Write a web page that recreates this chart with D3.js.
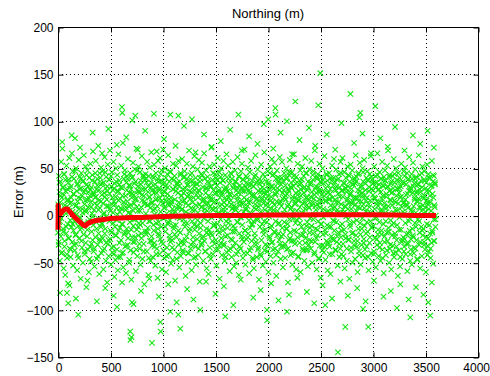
<!DOCTYPE html>
<html>
<head>
<meta charset="utf-8">
<script src="https://cdn.jsdelivr.net/npm/d3@7"></script>
<style>
  body { margin: 0; background: #fff; }
  text { font-family: "Liberation Sans", Arial, sans-serif; fill: #000; }
</style>
</head>
<body>
<div id="chart"></div>
<script>
// sample spacing of the bulk error series (seconds)
const sampleStep = 3;
const sampleStepB = 6;
const sampleOffsetB = 1.5;

// northing error per sample (m)
const bulkErrors = [
  -18, 9, -31, 42, -7, 25, -48, 14, 36, -22, 57, -3, 19, -39, 71, 5, -14, 30, -56, 22,
  44, -27, 11, -63, 38, 2, -19, 53, -41, 16, 28, -9, -72, 35, -24, 8, 61, -35, 13, -5,
  -44, 31, 19, -12, 66, -28, 4, 47, -53, -16, 23, 39, -6, -37, 82, 10, -21, 50, -30, 1,
  26, -58, 15, 34, -11, -45, 59, 7, -24, 41, -2, 18, -67, 29, 45, -13, -34, 21, 3, -50,
  37, -20, 64, -8, 12, -41, 27, 52, -29, 6, -76, 33, 17, -15, 48, -36, 9, 25, -60, 40,
  -4, 21, -33, 55, 14, -49, 30, -17, 2, 43, -26, 68, -10, -38, 24, 6, -54, 36, 19, -23,
  58, -7, 28, -46, 11, 39, -31, -3, 74, -19, 16, -62, 45, 8, -27, 33, -12, 51, -40, 22,
  -9, 47, -24, 13, -57, 35, 3, -35, 62, 20, -14, 29, -48, 41, -1, 17, -71, 26, 54, -30,
  10, -43, 38, -6, 23, 69, -25, 5, -52, 31, -18, 46, 12, -39, 27, -8, 57, -33, 15, -65,
  34, -12, -47, 20, 50, -21, 8, -36, 43, 1, -58, 26, 65, -16, 37, -29, 4, 18, -44, 30,
  -26, 53, 7, -40, 29, -9, 77, -55, 14, 39, -20, -2, 48, -33, 21, 9, -61, 35, -14, 42,
  15, -31, 60, -18, 3, 32, -50, 24, -7, 45, -37, 11, 28, -68, 19, 40, -23, 6, 56, -11,
  -39, 22, 13, -28, 49, -4, 36, -59, 18, 71, -15, 27, -43, 5, 31, -21, 52, -8, 24, -35,
  46, -10, -52, 33, 9, -24, 63, 16, -46, 28, -3, 41, -30, 21, -73, 38, 12, -17, 44, 2,
  -20, 35, -38, 57, 11, -13, 25, -63, 42, -6, 19, 51, -27, 8, -48, 30, 67, -22, 14, -32,
  27, -44, 6, 40, -16, 54, -29, 1, 33, -53, 17, 45, -8, 24, -35, 10, -66, 39, 58, -19,
  -7, 29, -41, 18, 61, -25, 4, 37, -12, 48, -57, 22, 13, -30, 70, -3, 26, -45, 35, 9,
  50, -17, 31, -60, 15, 2, -34, 44, 23, -9, 64, -42, 11, 36, -21, -5, 47, -28, 19, -51,
  12, 39, -26, 7, -47, 55, 28, -14, 3, -36, 42, 17, -69, 30, -10, 53, -23, 8, 33, -39,
  -2, 24, 58, -31, 14, -55, 36, 9, -18, 45, -43, 21, 6, -27, 60, 15, -37, 28, -4, 41,
  -30, 16, 47, -12, 29, -64, 4, 38, -22, 55, -8, 20, -49, 33, 11, -40, 69, -17, 26, 1,
  43, -35, 8, 25, -58, 37, -6, 14, 52, -28, 19, -45, 31, 63, -15, 6, -33, 40, -52, 22,
  -11, 34, -25, 49, 3, -42, 27, 59, -19, 12, -70, 36, 21, -8, 44, -31, 9, 56, -24, 15,
  30, -48, 18, -3, 66, -27, 39, 7, -38, 24, 48, -14, -56, 29, 5, 41, -20, 13, -62, 35,
  -15, 52, -34, 20, 10, -46, 31, -2, 73, -21, 17, 38, -41, 6, 27, -11, 54, -30, 23, 44,
  8, -26, 40, -53, 15, 32, -9, 61, -36, 3, 25, -18, 46, -67, 19, 35, -4, -29, 50, 12,
  -42, 23, 5, 37, -16, 58, -32, 14, 28, -48, 9, 43, -22, 30, -6, 65, -39, 17, -13, 26,
  53, -8, -37, 19, 34, -59, 22, 1, 45, -25, 12, -44, 39, 7, -17, 57, 29, -33, 10, -54,
  21, -14, 48, -29, 6, 36, -50, 27, 16, -7, 62, -38, 3, 24, -63, 41, -19, 11, 32, -2,
  -35, 47, 13, -22, 55, -10, 26, -45, 38, 4, -28, 19, 70, -16, 31, -52, 8, 42, -25, 17,
  28, -40, 10, 51, -19, 33, -5, -61, 24, 46, -13, 15, -34, 58, 2, -27, 37, -9, 20, -47,
  -6, 31, -56, 22, 41, -23, 12, 64, -31, 7, 35, -44, 18, -3, 49, -36, 26, 9, -68, 34,
  39, -12, 25, -41, 4, 54, -26, 17, -9, 30, -53, 44, 13, -20, 28, 67, -37, 6, -15, 23,
  -49, 18, 36, -7, 13, -32, 47, 21, -60, 35, -1, 27, -24, 52, 8, -43, 16, 31, -11, 60,
  14, -28, 43, 3, -50, 29, -17, 56, 11, -35, 22, -6, 39, -64, 25, 48, -21, 5, 34, -38,
  -19, 40, -8, 27, 62, -30, 15, -46, 33, 10, -22, 57, -13, 24, -55, 37, 2, -33, 45, 19,
  6, -45, 32, 17, -14, 50, -36, 23, 40, -9, -71, 28, 12, -26, 43, -4, 59, -18, 30, -42,
  35, 9, -27, 46, -52, 20, 4, -39, 31, 65, -16, 38, -30, 14, -8, 24, -57, 41, 18, -5,
  -23, 55, 16, -43, 26, -2, 37, -29, 9, 48, -60, 21, 34, -12, 3, 52, -35, 13, -20, 29,
  42, -16, -48, 30, 7, 61, -24, 19, -37, 45, 11, -7, 27, -54, 36, 16, -31, 8, 49, -26,
  -3, 33, 20, -35, 58, -11, 25, -50, 14, 38, -19, 47, 1, -41, 22, 69, -28, 10, -14, 31,
  24, -57, 39, 12, -21, 44, -6, 30, -45, 17, 55, -32, 8, 26, -66, 35, -9, 41, 15, -37,
  50, -20, 7, 34, -39, 21, 63, -15, 2, -47, 29, 16, -27, 43, -10, 37, -58, 24, 5, -30,
  -12, 45, -33, 18, 28, -62, 11, 40, -22, 4, 53, -41, 19, -5, 32, -26, 60, -16, 36, 9,
  17, -36, 27, 49, -7, -28, 38, 6, -53, 23, 14, -18, 44, -44, 30, 2, -35, 57, -23, 12,
  -41, 26, -9, 61, 20, -30, 3, 35, -15, 46, -56, 29, 10, -24, 40, -1, 25, -48, 16, 52,
  31, -4, 43, -25, 13, -67, 36, 22, -12, 54, -34, 7, 28, -19, 48, -50, 15, 33, -7, 19,
  -27, 38, 11, -46, 34, 64, -21, 5, 41, -33, 18, -60, 27, 9, -14, 45, -38, 22, 56, -8,
  8, -52, 30, 15, -31, 24, -3, 50, -42, 36, 12, -25, 59, -11, 21, -45, 34, 4, -19, 40,
  -33, 19, 47, -17, 3, 37, -58, 26, 9, -29, 44, 16, -6, 63, -40, 28, -13, 38, 1, -49,
  22, -11, 35, -38, 52, 7, -24, 18, 42, -55, 30, -2, 15, -31, 66, -20, 27, 10, -43, 33,
  -7, 46, -29, 14, -48, 25, 39, -16, 5, 57, -36, 21, 32, -9, -61, 41, 13, -22, 48, 3,
  37, -42, 20, 8, -18, 53, -27, 31, 69, -13, 2, -50, 26, 43, -35, 17, -5, 34, -57, 24,
  -21, 11, 42, -32, 29, -8, 60, -44, 16, 35, -19, 6, -39, 50, 21, -26, 38, -10, 28, -64,
  45, 13, -37, 24, -2, 40, -54, 19, 31, -15, 55, -28, 9, -46, 36, 4, -23, 47, 14, -33,
  2, -25, 51, 17, -41, 33, 12, -20, 45, -59, 23, 8, -30, 39, -6, 62, -16, 27, -48, 30,
  -36, 28, 6, -52, 39, -14, 24, 56, -23, 10, -40, 34, 19, -8, 49, -35, 3, 41, -26, 15,
  26, -47, 33, -4, 18, 64, -31, 9, -18, 43, -56, 25, 37, -12, 5, -43, 30, 52, -21, 11,
  -14, 38, -28, 47, 21, -36, 4, 29, -60, 35, 16, -9, 54, -32, 12, -24, 44, 7, -38, 26,
  40, -19, 14, -45, 31, 1, -29, 58, -16, 23, 36, -51, 19, -4, 42, -27, 9, 33, -12, 0
];

// second interleaved set of samples (core band)
const bulkErrorsB = [
  12, -28, 35, -6, 21, -40, 3, 30, -17, 44, -33, 8, 26, -12, -45, 17, 38, -24, 5, 29,
  -36, 14, 41, -9, 23, -31, 2, 47, -20, 11, 33, -42, 19, -4, 28, -15, 39, -27, 7, 36,
  -11, 25, -38, 16, 4, 43, -22, 31, -7, 18, -46, 27, 9, -30, 37, -1, 22, -35, 13, 45,
  20, -14, 32, -43, 6, 27, -25, 40, 15, -8, 34, -37, 1, 24, -19, 46, -29, 10, 31, -3,
  -26, 38, 7, -16, 42, -34, 19, 3, -41, 29, 12, -21, 36, -5, 25, -44, 16, 33, -13, 8,
  30, -9, 21, -39, 14, 44, -18, 6, -32, 27, 39, -24, 10, -47, 32, 2, -15, 23, 41, -28,
  -4, 34, -23, 17, -36, 9, 48, -12, 26, -30, 5, 37, -19, 22, -8, 43, -38, 15, 28, -2,
  39, -17, 11, 31, -45, 20, -6, 35, -27, 13, 42, -10, 24, -33, 7, 29, -41, 18, -14, 36,
  -21, 27, -2, 44, -28, 16, 33, -37, 8, 25, -12, 40, -43, 19, 30, -7, 14, -25, 46, 3,
  15, -34, 28, -11, 38, -20, 4, 26, -46, 35, 10, -16, 31, -3, 43, -29, 21, 7, -39, 24,
  -8, 41, -26, 13, -1, 32, -40, 22, 37, -14, 18, -31, 45, 6, -23, 34, -10, 27, -44, 11,
  33, -5, 19, -35, 26, 40, -13, 9, -29, 43, -22, 16, 3, -38, 29, 12, -18, 36, -6, 21,
  -42, 17, 30, -19, 7, -27, 45, 14, -9, 34, -36, 24, 38, -15, 2, 27, -32, 10, 41, -24,
  25, -12, 37, -30, 18, 5, -44, 28, 11, -21, 39, -4, 23, -35, 16, 44, -26, 8, -11, 32,
  -17, 36, 9, -41, 30, -7, 20, 42, -33, 15, -2, 29, -25, 38, 13, -40, 26, -16, 6, 35,
  40, -23, 14, 27, -37, 3, 33, -10, 22, -45, 31, 8, -19, 43, -28, 17, -5, 37, -34, 12,
  -1, 28, -43, 19, 35, -16, 24, -6, 41, -31, 11, 26, -38, 4, 32, -22, 45, -13, 20, -29,
  31, -36, 6, 44, -18, 23, -42, 15, 29, -9, 37, -26, 13, 1, -33, 40, 18, -20, 27, -7,
  -30, 21, 39, -14, 10, -35, 26, 46, -24, 7, 30, -40, 17, -3, 42, -27, 12, 34, -17, 5,
  22, -44, 16, 33, -8, 28, -21, 38, 2, -37, 24, 14, -29, 45, -11, 19, -36, 30, 9, -18,
  -13, 35, -27, 11, 43, -4, 18, -39, 29, 6, -24, 41, -15, 26, -46, 13, 36, -9, 22, -32,
  38, -2, 25, -33, 15, -19, 44, 4, -28, 32, 17, -41, 23, -12, 37, -25, 8, 40, -6, 28,
  -37, 14, 31, -22, 3, 39, -30, 20, -11, 45, -16, 27, 6, -43, 34, 10, -20, 29, -35, 18,
  7, -26, 42, -9, 24, -38, 13, 33, -18, 2, 40, -32, 19, 36, -5, -27, 44, 15, -42, 26,
  -20, 32, -14, 21, 46, -29, 8, -36, 27, 16, -7, 38, -44, 12, 30, -23, 3, 41, -12, 34,
  27, -41, 19, -3, 35, 12, -25, 43, -15, 28, -34, 5, 39, -20, 18, -45, 31, 9, -28, 37,
  -6, 23, -37, 30, 10, -17, 41, -31, 16, 36, -10, 25, -40, 3, 44, -22, 14, -33, 29, 6,
  36, -15, 29, -44, 20, 1, -26, 34, 13, -38, 42, -8, 22, -30, 11, 38, -19, 26, -3, -41,
  -25, 44, 4, -21, 31, -34, 17, 39, -12, 24, -46, 15, 33, -6, 28, -28, 9, 45, -16, 20,
  18, -31, 37, 8, -23, 26, -42, 14, 40, -10, 21, -35, 5, 32, -18, 43, -27, 11, 35, -4
];

// sparser tail samples [time s, error m]
const tailPoints = [
  [40, 78], [130, 85], [210, 72], [330, 88], [420, 66], [480, 92], [560, 75], [650, 83],
  [760, 70], [830, 90], [940, 68], [1010, 81], [1120, 74], [1200, 95], [1310, 67], [1390, 86],
  [1460, 72], [1550, 79], [1640, 91], [1750, 69], [1820, 84], [1900, 76], [1960, 97], [2050, 71],
  [2120, 88], [2230, 65], [2300, 80], [2390, 93], [2450, 74], [2560, 86], [2640, 70], [2700, 98],
  [2820, 77], [2900, 87], [2980, 66], [3070, 82], [3140, 73], [3210, 94], [3300, 69], [3380, 85],
  [3450, 76], [3520, 90], [3580, 72],
  [20, -82], [110, -74], [170, -88], [280, -69], [370, -91], [450, -77], [530, -85], [610, -71],
  [720, -94], [790, -80], [870, -67], [960, -86], [1050, -73], [1130, -92], [1230, -78], [1290, -89],
  [1410, -70], [1500, -83], [1580, -75], [1670, -95], [1740, -68], [1860, -87], [1930, -79], [2030, -72],
  [2100, -90], [2200, -84], [2280, -66], [2370, -81], [2440, -93], [2520, -74], [2610, -88], [2690, -70],
  [2760, -85], [2850, -77], [2930, -91], [3010, -69], [3100, -86], [3170, -80], [3260, -73], [3340, -89],
  [3410, -76], [3480, -84], [3560, -71]
];

// outliers [time s, error m]
const outlierPoints = [
  [609, 115], [612, 109], [736, 106], [708, 101], [914, 108], [1070, 107], [1146, 106], [1276, 102],
  [1718, 107], [2003, 102], [2498, 151], [2260, 121], [2785, 129], [2479, 117], [3022, 116], [2070, 114],
  [2072, 107], [2880, 109], [2870, 104], [2180, 100],
  [193, -105], [98, -93], [85, -82], [688, -123], [690, -132], [700, -129], [895, -135], [975, -113],
  [978, -123], [1165, -120], [1070, -102], [1146, -105], [1593, -107], [1990, -100], [1992, -111], [562, -97],
  [705, -92], [1355, -100], [2181, -102], [2736, -118], [2955, -118], [2666, -145], [3355, -108], [3545, -106],
  [3527, -92], [2905, -99], [2545, -95], [3228, -98]
];

// running mean [time s, error m]
const meanPoints = [
  [0, -15], [2, 11], [5, -2], [12, 4], [25, 2], [45, 5], [70, 7], [90, 7], [120, 3], [160, -2],
  [200, -6], [240, -10], [260, -11], [290, -8], [330, -6], [380, -5], [450, -4], [500, -3],
  [600, -2.5], [700, -2], [800, -2], [900, -1.5], [1000, -1], [1200, -0.5], [1500, 0], [1800, 0],
  [2000, 0.5], [2200, 0.5], [2500, 1], [2800, 1], [3000, 1], [3200, 0.5], [3400, 0], [3600, 0]
];

const xTicks = [0, 500, 1000, 1500, 2000, 2500, 3000, 3500, 4000];
const yTicks = [-150, -100, -50, 0, 50, 100, 150, 200];

const dims = { width: 490, height: 376, left: 58, right: 478, top: 27, bottom: 357 };

const svg = d3.select("#chart").append("svg")
  .attr("width", dims.width)
  .attr("height", dims.height);

const xScale = d3.scaleLinear().domain([0, 4000]).range([dims.left, dims.right]);
const yScale = d3.scaleLinear().domain([-150, 200]).range([dims.bottom, dims.top]);

// grid
const grid = svg.append("g")
  .attr("stroke", "#000")
  .attr("stroke-width", 1)
  .attr("stroke-dasharray", "1,3");
grid.selectAll("line.gx").data(xTicks.slice(1, -1)).join("line")
  .attr("x1", d => Math.round(xScale(d)) + 0.5).attr("x2", d => Math.round(xScale(d)) + 0.5)
  .attr("y1", dims.top).attr("y2", dims.bottom);
grid.selectAll("line.gy").data(yTicks.slice(1, -1)).join("line")
  .attr("y1", d => Math.round(yScale(d)) + 0.5).attr("y2", d => Math.round(yScale(d)) + 0.5)
  .attr("x1", dims.left).attr("x2", dims.right);

// scatter of x markers
const samples = bulkErrors.map((v, i) => [i * sampleStep, v])
  .concat(bulkErrorsB.map((v, i) => [sampleOffsetB + i * sampleStepB, v]))
  .concat(tailPoints, outlierPoints);
const s = 2.7;
svg.append("g")
  .selectAll("path")
  .data(samples)
  .join("path")
    .attr("d", d => {
      const cx = xScale(d[0]), cy = yScale(d[1]);
      return `M${cx - s},${cy - s}L${cx + s},${cy + s}M${cx - s},${cy + s}L${cx + s},${cy - s}`;
    })
    .attr("fill", "none")
    .attr("stroke", "#14e614")
    .attr("stroke-width", 1.1);

// running mean line
const lineGenerator = d3.line()
  .x(d => xScale(d[0]))
  .y(d => yScale(d[1]));
svg.append("path")
  .attr("d", lineGenerator(meanPoints))
  .attr("fill", "none")
  .attr("stroke", "#ff0000")
  .attr("stroke-width", 5)
  .attr("stroke-linejoin", "round");

// axes box
svg.append("rect")
  .attr("x", dims.left + 0.5).attr("y", dims.top + 0.5)
  .attr("width", dims.right - dims.left).attr("height", dims.bottom - dims.top)
  .attr("fill", "none").attr("stroke", "#000");

const fmt = d3.format("d");
const xAxis = svg.append("g")
  .attr("transform", `translate(0.5,${dims.bottom + 0.5})`)
  .call(d3.axisBottom(xScale).tickValues(xTicks).tickFormat(fmt).tickSizeInner(-5).tickSizeOuter(0).tickPadding(6));
const yAxis = svg.append("g")
  .attr("transform", `translate(${dims.left + 0.5},0.5)`)
  .call(d3.axisLeft(yScale).tickValues(yTicks).tickFormat(fmt).tickSizeInner(-5).tickSizeOuter(0).tickPadding(5));
const xTop = svg.append("g")
  .attr("transform", `translate(0.5,${dims.top + 0.5})`)
  .call(d3.axisTop(xScale).tickValues(xTicks).tickFormat("").tickSizeInner(-5).tickSizeOuter(0));
const yRight = svg.append("g")
  .attr("transform", `translate(${dims.right + 0.5},0.5)`)
  .call(d3.axisRight(yScale).tickValues(yTicks).tickFormat("").tickSizeInner(-5).tickSizeOuter(0));

[xAxis, yAxis, xTop, yRight].forEach(g => {
  g.select(".domain").remove();
  g.selectAll("text").style("font-size", "12px").style("font-family", '"Liberation Sans", Arial, sans-serif');
});
// keep the last x label inside the page
xAxis.selectAll("text").filter(d => d === 4000).attr("text-anchor", "end").attr("x", 11);

// title and label
svg.append("text")
  .attr("x", (dims.left + dims.right) / 2)
  .attr("y", 18)
  .attr("text-anchor", "middle")
  .style("font-size", "13px")
  .text("Northing (m)");

svg.append("text")
  .attr("transform", `translate(23,${(dims.top + dims.bottom) / 2}) rotate(-90)`)
  .attr("text-anchor", "middle")
  .style("font-size", "13px")
  .text("Error (m)");
</script>
</body>
</html>
